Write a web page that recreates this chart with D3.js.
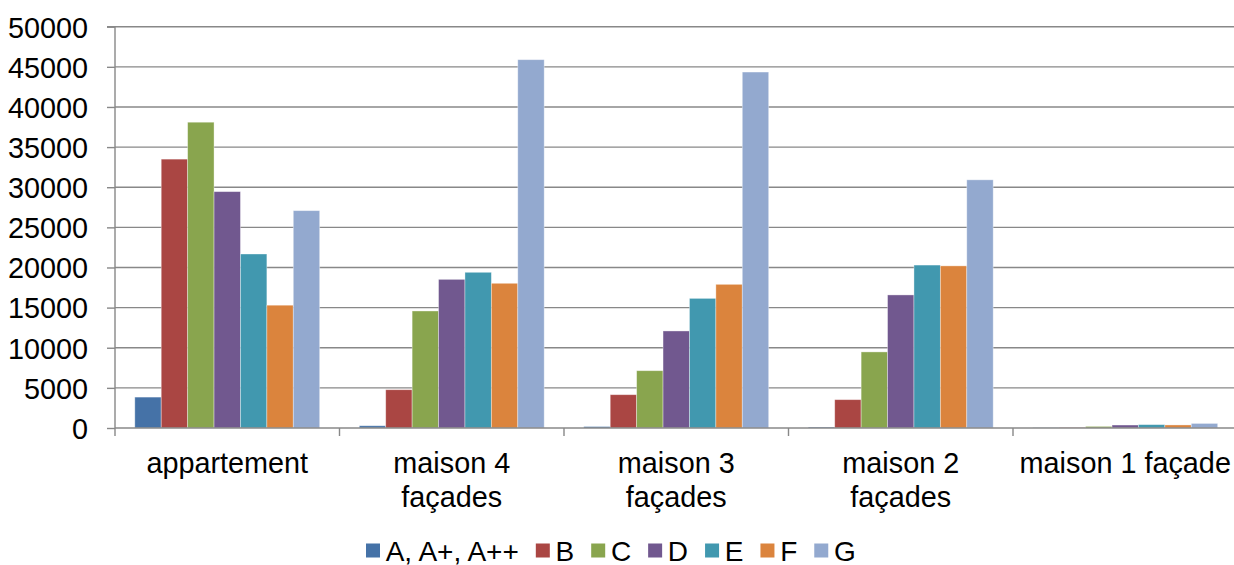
<!DOCTYPE html>
<html>
<head>
<meta charset="utf-8">
<script src="https://cdn.jsdelivr.net/npm/d3@7/dist/d3.min.js"></script>
<style>
html,body{margin:0;padding:0;background:#fff;overflow:hidden;}
svg{display:block;font-family:"Liberation Sans",Arial,sans-serif;}
</style>
</head>
<body>
<svg id="chart" width="1234" height="565"></svg>
<script>
const categories = [["appartement"], ["maison 4", "façades"], ["maison 3", "façades"], ["maison 2", "façades"], ["maison 1 façade"]];
const seriesNames = ["A, A+, A++", "B", "C", "D", "E", "F", "G"];
const seriesColors = ["#4572A7", "#AA4643", "#89A54E", "#71588F", "#4198AF", "#DB843D", "#93A9CF"];
const valuesA = [3850, 280, 180, 120, 30];
const valuesB = [33500, 4770, 4150, 3530, 60];
const valuesC = [38100, 14580, 7140, 9480, 200];
const valuesD = [29450, 18520, 12090, 16580, 370];
const valuesE = [21680, 19400, 16150, 20300, 420];
const valuesF = [15300, 18030, 17900, 20200, 380];
const valuesG = [27080, 45890, 44350, 30920, 570];
const yTicks = [0, 5000, 10000, 15000, 20000, 25000, 30000, 35000, 40000, 45000, 50000];

(function () {
const allValues = [valuesA, valuesB, valuesC, valuesD, valuesE, valuesF, valuesG];
const catKeys = categories.map(c => c.join(" "));

const svg = d3.select("#chart");
const pLeft = 115, pRight = 115 + 5 * 224.5, pTop = 26.7, pBottom = 428;
const fontSize = 28.8;
const gridColor = "#888888";

const x0 = d3.scaleBand().domain(catKeys).range([pLeft, pRight]).paddingInner(0).paddingOuter(0);
const x1 = d3.scaleBand().domain(seriesNames).range([0, x0.bandwidth()]).paddingInner(0).paddingOuter(0.75);
const y = d3.scaleLinear().domain([0, 50000]).range([pBottom, pTop]);

// gridlines
svg.append("g").selectAll("line").data(yTicks.filter(t => t > 0)).join("line")
  .attr("x1", pLeft).attr("x2", 1234)
  .attr("y1", d => y(d)).attr("y2", d => y(d))
  .attr("stroke", gridColor).attr("stroke-width", 1.4);

// bars
const groups = svg.append("g").selectAll("g").data(catKeys).join("g")
  .attr("transform", d => `translate(${x0(d)},0)`);
groups.selectAll("rect").data((d, ci) => seriesNames.map((s, si) => ({s, si, v: allValues[si][ci]})))
  .join("rect")
  .attr("x", d => x1(d.s))
  .attr("width", x1.bandwidth())
  .attr("y", d => y(d.v))
  .attr("height", d => y(0) - y(d.v))
  .attr("fill", d => seriesColors[d.si])
  .attr("stroke", "rgba(255,255,255,0.45)")
  .attr("stroke-width", 0.8);

// y axis
const yAxis = d3.axisLeft(y).tickValues(yTicks).tickSize(8).tickPadding(19).tickFormat(d3.format("d"));
const gy = svg.append("g").attr("transform", `translate(${pLeft},0)`).call(yAxis);
gy.select(".domain").attr("stroke", gridColor).attr("stroke-width", 1.4).attr("d", `M-8,${pTop}H0V${pBottom}`);
gy.selectAll(".tick line").attr("stroke", gridColor).attr("stroke-width", 1.4);
gy.selectAll(".tick text").attr("font-size", fontSize).attr("fill", "#000")
  .attr("font-family", "'Liberation Sans', Arial, sans-serif").attr("dy", "0.36em");

// x axis
const xAxis = d3.axisBottom(x0).tickValues([]).tickSize(0);
const gx = svg.append("g").attr("transform", `translate(0,${pBottom})`).call(xAxis);
gx.select(".domain").attr("stroke", gridColor).attr("stroke-width", 1.4).attr("d", `M${pLeft},0H1234`);
const boundaries = catKeys.map(k => x0(k)).concat([pRight]);
gx.selectAll("line.bt").data(boundaries).join("line").attr("class", "bt")
  .attr("x1", d => d).attr("x2", d => d).attr("y1", 0).attr("y2", 8)
  .attr("stroke", gridColor).attr("stroke-width", 1.4);

// category labels
const labels = svg.append("g").selectAll("text").data(categories).join("text")
  .attr("text-anchor", "middle")
  .attr("font-size", fontSize)
  .attr("fill", "#000")
  .attr("transform", (d, i) => `translate(${x0(catKeys[i]) + x0.bandwidth() / 2},473)`);
labels.selectAll("tspan").data(d => d).join("tspan")
  .attr("x", 0).attr("y", (d, i) => i * 33.7).text(d => d);

// legend
const legend = svg.append("g");
let lx = 366;
seriesNames.forEach((s, i) => {
  legend.append("rect").attr("x", lx).attr("y", 543.5).attr("width", 14).attr("height", 14).attr("fill", seriesColors[i]);
  const t = legend.append("text").attr("x", lx + 19.7).attr("y", 560.5).attr("font-size", 28).attr("fill", "#000").text(s);
  const w = t.node().getComputedTextLength();
  lx += 14 + 5.7 + w + 17;
});
})();
</script>
</body>
</html>
